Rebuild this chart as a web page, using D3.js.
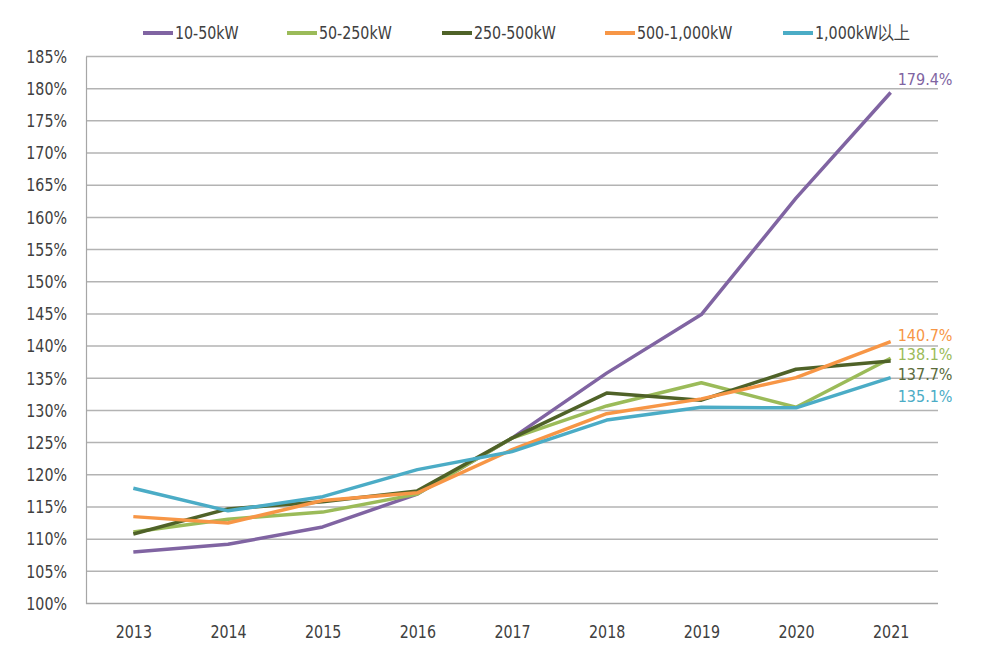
<!DOCTYPE html>
<html><head><meta charset="utf-8">
<script src="https://cdn.jsdelivr.net/npm/d3@7"></script>
<style>
body{margin:0;background:#fff;}
text{font-family:"DejaVu Sans Condensed","DejaVu Sans",sans-serif;transform-box:fill-box;}
text.sl{transform:scaleX(0.88);transform-origin:left center;}
text.sr{transform:scaleX(0.88);transform-origin:right center;}
text.sc{transform:scaleX(0.88);transform-origin:center center;}
</style></head>
<body><svg id="c" width="1000" height="663"></svg>
<script>
const years = ["2013","2014","2015","2016","2017","2018","2019","2020","2021"];
const seriesNames = ["10-50kW","50-250kW","250-500kW","500-1,000kW","1,000kW以上"];
const s10_50 = [108.0,109.2,111.9,117.0,125.7,135.8,144.9,163.0,179.4];
const s50_250 = [111.1,113.1,114.2,117.0,125.7,130.7,134.3,130.5,138.1];
const s250_500 = [110.8,114.7,115.8,117.5,125.7,132.7,131.6,136.4,137.7];
const s500_1000 = [113.5,112.5,116.0,117.2,123.9,129.5,131.8,135.1,140.7];
const s1000up = [117.9,114.4,116.6,120.8,123.6,128.5,130.5,130.4,135.1];
const endLabels = ["179.4%","138.1%","137.7%","140.7%","135.1%"];
const yTicks = [100,105,110,115,120,125,130,135,140,145,150,155,160,165,170,175,180,185];

const colors = ["#8064A2","#9BBB59","#4F6228","#F79646","#4BACC6"];
const labelColors = ["#8064A2","#9BBB59","#5a6b3a","#F79646","#4BACC6"];
const labelDy = [-8,1.5,19.5,-1,24];
const allSeries = [s10_50,s50_250,s250_500,s500_1000,s1000up];

const svg = d3.select("#c");
const L=86,R=938,T=56.5,B=603.5;
const FS=18;
const x = d3.scalePoint().domain(years).range([L,R]).padding(0.5);
const y = d3.scaleLinear().domain([100,185]).range([B,T]);

// gridlines
svg.append("g").selectAll("line").data(yTicks.filter(d=>d>100)).join("line")
  .attr("x1",L).attr("x2",R).attr("y1",d=>y(d)).attr("y2",d=>y(d))
  .attr("stroke","#b3b3b3").attr("stroke-width",1.5);

// y axis
const yAxis = svg.append("g").attr("transform",`translate(${L},0)`)
  .call(d3.axisLeft(y).tickValues(yTicks).tickFormat(d=>d+"%").tickSize(0).tickPadding(19));
yAxis.select(".domain").attr("stroke","#a6a6a6").attr("stroke-width",1.2);
yAxis.selectAll("text").attr("font-size",FS).attr("fill","#404040").attr("class","sr");

// x axis
const xAxis = svg.append("g").attr("transform",`translate(0,${B})`)
  .call(d3.axisBottom(x).tickSize(0).tickPadding(22));
xAxis.select(".domain").attr("stroke","#a6a6a6").attr("stroke-width",1.5).attr("d",`M${L},0H${R}`);
xAxis.selectAll("text").attr("font-size",FS).attr("fill","#404040").attr("class","sc");

// lines
const line = d3.line().x((d,i)=>x(years[i])).y(d=>y(d));
allSeries.forEach((s,k)=>{
  svg.append("path").datum(s).attr("d",line).attr("fill","none")
    .attr("stroke",colors[k]).attr("stroke-width",3.5).attr("stroke-linejoin","round");
});
// end labels
allSeries.forEach((s,k)=>{
  svg.append("text").attr("x",x(years[8])+7).attr("y",y(s[8])+labelDy[k])
    .attr("font-size",16).attr("fill",labelColors[k]).text(endLabels[k]);
});

// legend
const legX = [143,287,442,605,783];
const lg = svg.append("g");
seriesNames.forEach((n,k)=>{
  lg.append("line").attr("x1",legX[k]).attr("x2",legX[k]+30).attr("y1",33).attr("y2",33)
    .attr("stroke",colors[k]).attr("stroke-width",4);
  lg.append("text").attr("class","sl").attr("x",legX[k]+32).attr("y",39.5).attr("font-size",FS).attr("fill","#404040").text(n);
});
</script></body></html>
